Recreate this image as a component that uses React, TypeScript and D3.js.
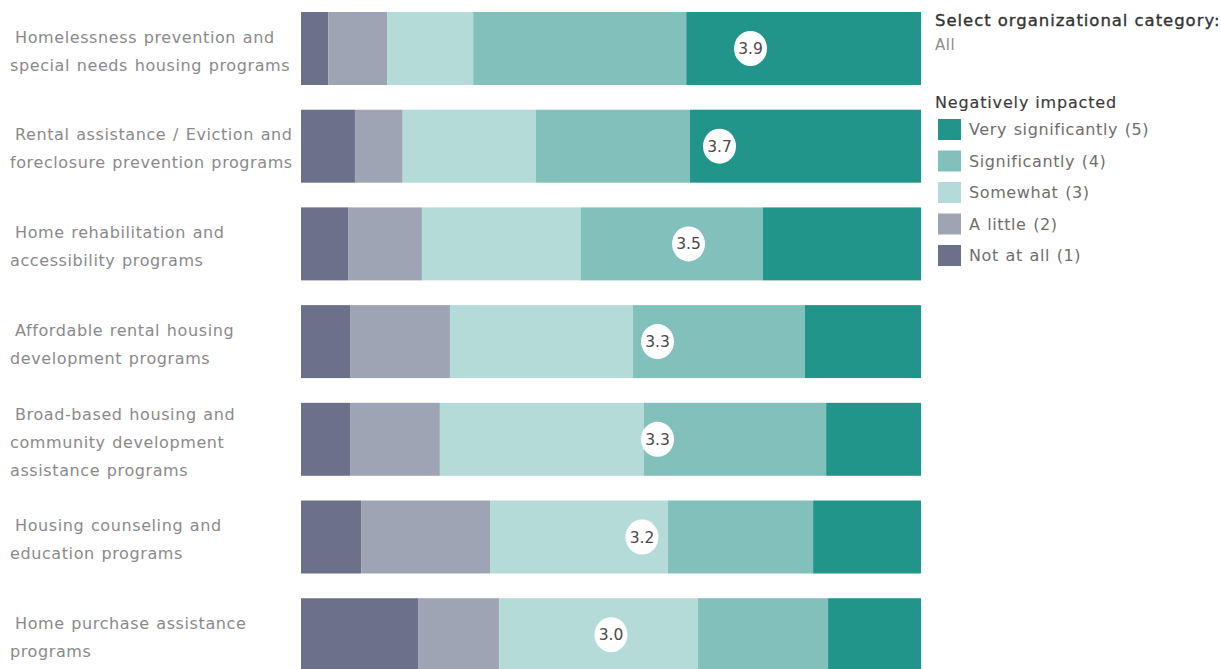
import React from "react";
import * as d3 from "d3";

const categories = [
  ["Homelessness prevention and", "special needs housing programs"],
  ["Rental assistance / Eviction and", "foreclosure prevention programs"],
  ["Home rehabilitation and", "accessibility programs"],
  ["Affordable rental housing", "development programs"],
  ["Broad-based housing and", "community development", "assistance programs"],
  ["Housing counseling and", "education programs"],
  ["Home purchase assistance", "programs"],
];

const levels = [
  "Not at all (1)",
  "A little (2)",
  "Somewhat (3)",
  "Significantly (4)",
  "Very significantly (5)",
];

// percentage shares per category, in level order (1..5)
const notAtAll = [4.4, 8.7, 7.6, 7.9, 7.9, 9.7, 18.9];
const aLittle = [9.5, 7.7, 11.9, 16.1, 14.5, 20.8, 13.1];
const somewhat = [13.9, 21.5, 25.6, 29.5, 32.9, 28.7, 32.1];
const significantly = [34.4, 24.8, 29.4, 27.7, 29.4, 23.4, 21.0];
const verySignificantly = [37.9, 37.3, 25.5, 18.7, 15.3, 17.4, 15.0];

const averages = [3.9, 3.7, 3.5, 3.3, 3.3, 3.2, 3.0];

const colors = ["#6b7189", "#9ea4b3", "#b4dbd8", "#82c1bb", "#22958b"];

const legendTitle = "Negatively impacted";
const filterTitle = "Select organizational category:";
const filterValue = "All";

const W = 1221;
const H = 669;
const FONT = "'DejaVu Sans', 'Open Sans', sans-serif";

export default function App() {
  const keys = categories.map((_, i) => String(i));
  const series = [notAtAll, aLittle, somewhat, significantly, verySignificantly];
  const rows = keys.map((k, i) => {
    const row: any = { key: k };
    series.forEach((s, j) => (row[j] = s[i]));
    return row;
  });
  const stacked = d3
    .stack<any>()
    .keys(levels.map((_, j) => String(j)))
    .offset(d3.stackOffsetExpand)(rows);

  const x = d3.scaleLinear().domain([0, 1]).range([301, 921]);
  const xAvg = d3.scaleLinear().domain([1, 5]).range([301, 921]);
  const y = d3
    .scaleBand()
    .domain(keys)
    .range([12, 671.2])
    .paddingInner(0.253)
    .paddingOuter(0);
  const bw = y.bandwidth();
  const lineH = 28;

  return (
    <svg
      width={W}
      height={H}
      style={{ position: "absolute", left: 0, top: 0, background: "#fff" }}
      fontFamily={FONT}
    >
      {/* category labels */}
      {categories.map((lines, i) => {
        const cy = (y(keys[i]) as number) + bw / 2 + 2.5;
        const y0 = cy - ((lines.length - 1) * lineH) / 2;
        return (
          <text
            key={i}
            fontSize={16}
            fill="#8a8a8a"
            letterSpacing={0.6}
            wordSpacing={1}
          >
            {lines.map((ln, j) => (
              <tspan key={j} x={j === 0 ? 15 : 10} y={y0 + j * lineH} dy="0.36em">
                {ln}
              </tspan>
            ))}
          </text>
        );
      })}

      {/* stacked bars */}
      {stacked.map((s, j) => (
        <g key={j} fill={colors[j]}>
          {s.map((d, i) => (
            <rect
              key={i}
              x={x(d[0])}
              y={y(keys[i])}
              width={x(d[1]) - x(d[0])}
              height={bw}
            />
          ))}
        </g>
      ))}

      {/* average markers */}
      {averages.map((v, i) => {
        const cx = xAvg(v);
        const cy = (y(keys[i]) as number) + bw / 2;
        return (
          <g key={i}>
            <ellipse cx={cx} cy={cy} rx={16.5} ry={17.5} fill="#fff" />
            <text
              x={cx}
              y={cy}
              dy="0.36em"
              textAnchor="middle"
              fontSize={15.5}
              fill="#4a4a4a"
            >
              {v.toFixed(1)}
            </text>
          </g>
        );
      })}

      {/* filter & legend */}
      <text
        x={935}
        y={20}
        dy="0.36em"
        fontSize={16.5}
        fill="#333"
        stroke="#333"
        strokeWidth={0.35}
        letterSpacing={0.95}
      >
        {filterTitle}
      </text>
      <text x={935} y={45} dy="0.36em" fontSize={15} fill="#8c8c8c" letterSpacing={0.5}>
        {filterValue}
      </text>
      <text
        x={935}
        y={102}
        dy="0.36em"
        fontSize={16}
        fill="#3a3a3a"
        stroke="#3a3a3a"
        strokeWidth={0.15}
        letterSpacing={0.85}
      >
        {legendTitle}
      </text>
      {levels
        .slice()
        .reverse()
        .map((lab, k) => {
          const j = levels.length - 1 - k;
          const yy = 119 + k * 31.5;
          return (
            <g key={lab}>
              <rect x={938} y={yy} width={23} height={21} fill={colors[j]} />
              <text
                x={969}
                y={yy + 10.5}
                dy="0.36em"
                fontSize={16}
                fill="#6e6e6e"
                letterSpacing={0.6}
                wordSpacing={1}
              >
                {lab}
              </text>
            </g>
          );
        })}
    </svg>
  );
}
